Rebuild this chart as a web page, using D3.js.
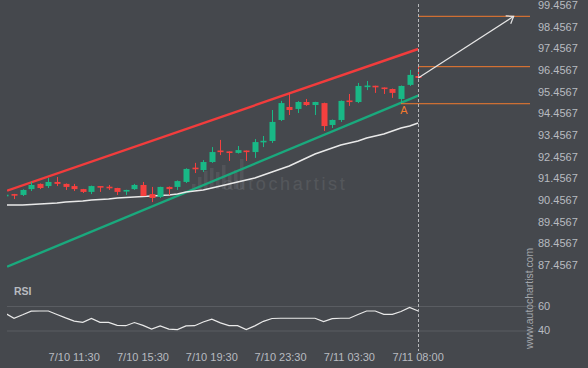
<!DOCTYPE html>
<html><head><meta charset="utf-8">
<script src="https://cdn.jsdelivr.net/npm/d3@7"></script>
<style>html,body{margin:0;padding:0;background:#45484d;} svg{display:block;font-family:"Liberation Sans",Arial,sans-serif}</style>
</head><body>
<svg id="c" width="588" height="368"></svg>
<script>
// ---- data (candle slots -1 .. 47, 30-minute bars) ----
const opens  = [90.68,90.73,90.69,90.96,91.20,91.10,91.29,91.20,91.10,90.96,90.83,91.10,91.07,91.01,90.85,90.96,91.15,90.73,90.60,91.06,91.06,91.29,91.95,91.84,92.21,92.74,92.70,92.63,92.74,92.67,93.16,93.18,94.15,94.75,94.66,94.98,94.84,94.93,93.92,94.15,95.05,94.98,95.70,95.73,95.65,95.58,95.12,95.77,96.18];
const highs  = [90.71,90.74,90.95,91.29,91.22,91.47,91.52,91.22,91.20,90.97,91.12,91.10,91.15,91.02,90.93,91.20,91.29,91.06,91.07,91.08,91.36,91.92,92.17,92.30,92.90,93.23,92.70,92.95,92.74,93.27,93.41,94.61,95.03,95.40,95.02,95.12,94.99,94.95,94.17,95.05,95.35,95.86,95.95,95.73,95.65,95.60,95.74,96.46,96.60];
const lows   = [90.67,90.50,90.64,90.87,90.96,91.01,91.10,90.92,90.87,90.78,90.73,90.83,90.92,90.69,90.69,90.92,90.64,90.36,90.55,90.69,90.92,91.24,91.70,91.75,92.17,92.53,92.26,92.60,92.26,92.40,92.90,93.09,94.10,94.38,94.47,94.80,94.38,93.64,93.78,94.06,94.80,94.93,95.53,95.40,95.35,95.17,94.89,95.72,96.09];
const closes = [90.70,90.69,90.92,91.15,91.01,91.29,91.20,91.06,90.96,90.83,91.10,91.06,91.05,90.83,90.92,91.15,90.64,90.55,91.06,90.96,91.33,91.89,91.92,92.21,92.67,92.70,92.66,92.76,92.70,93.13,93.19,94.06,94.93,94.61,94.98,94.84,94.98,93.87,94.15,95.03,95.00,95.72,95.74,95.69,95.61,95.40,95.72,96.23,96.09];
const maValues = [90.226,90.226,90.226,90.249,90.272,90.295,90.318,90.364,90.388,90.411,90.457,90.480,90.503,90.549,90.572,90.595,90.618,90.641,90.664,90.687,90.734,90.826,90.872,90.918,91.011,91.103,91.195,91.287,91.380,91.472,91.610,91.749,91.887,92.026,92.210,92.395,92.580,92.718,92.857,92.995,93.087,93.180,93.318,93.410,93.503,93.641,93.780,93.872,94.010];
const rsiValues = [54.0,50.0,52.8,55.8,55.9,55.9,53.1,50.3,47.7,46.7,49.8,46.7,46.6,44.2,43.9,46.5,44.2,41.1,43.8,41.1,40.7,43.7,43.9,46.9,49.2,46.2,44.0,43.9,40.8,43.8,47.5,49.8,50.0,50.0,50.0,50.0,50.0,47.3,49.7,50.0,50.0,53.1,55.9,55.9,53.2,53.2,55.5,58.9,55.9];
const firstSlot = -1;

const priceTicks = [99.4567,98.4567,97.4567,96.4567,95.4567,94.4567,93.4567,92.4567,91.4567,90.4567,89.4567,88.4567,87.4567];
const rsiTicks = [60, 40];
const timeTickSlots  = [7, 15, 23, 31, 39, 47];
const timeTickLabels = ["7/10 11:30","7/10 15:30","7/10 19:30","7/10 23:30","7/11 03:30","7/11 08:00"];

// channel (slot, value)
const channelSlots = [-0.8, 47];
const resistance   = [90.887, 97.426];
const support      = [87.378, 95.27];

// forecast levels
const lastSlot = 47;
const levelEndSlot = 60;
const targetLevel = 98.935;
const upperLevel = 96.61;
const pointALevel = 94.90;
const pointASlot = 45;
const arrowFrom = {slot: 47, value: 96.088};
const arrowTo   = {slot: 58.1, value: 98.935};

// ---- drawing ----
const svg = d3.select("#c");
const W = 588, H = 368;
svg.append("rect").attr("width", W).attr("height", H).attr("fill", "#45484d");

const x = d3.scaleLinear().domain([-1, 47]).range([5.4, 418.2]);
const y = d3.scaleLinear().domain([87.4567, 99.4567]).range([265, 5]);
const yr = d3.scaleLinear().domain([40, 60]).range([330.5, 306]);

const slots = d3.range(firstSlot, firstSlot + opens.length);
const data = slots.map((s, k) => ({s, o: opens[k], h: highs[k], l: lows[k], c: closes[k], ma: maValues[k], rsi: rsiValues[k]}));

const defs = svg.append("defs");
defs.append("clipPath").attr("id", "plot").append("rect").attr("x", 7).attr("y", 0).attr("width", 523).attr("height", 290);
defs.append("clipPath").attr("id", "rsiclip").append("rect").attr("x", 7).attr("y", 290).attr("width", 523).attr("height", 60);

const GREEN = "#19b886", RED = "#f5403f", ORANGE = "#f27a2e", TXT = "#b8bbc0";

// watermark logo + text
const wm = svg.append("g").attr("clip-path", "url(#plot)");
const logoTops = [184, 177, 171, 168, 172, 165, 175, 170, 159];
wm.selectAll("rect.logo").data(logoTops).join("rect")
  .attr("x", (d, i) => 192 + i * 6).attr("y", d => d).attr("width", 3.5)
  .attr("height", d => 189 - d).attr("fill", "#ffffff").attr("opacity", 0.07);
wm.append("text").attr("x", 223).attr("y", 190).text("autochartist")
  .attr("font-size", 18).attr("letter-spacing", 2.6).attr("fill", "#ffffff").attr("opacity", 0.08);

// price axis labels
const yAxis = d3.axisRight(y).tickValues(priceTicks).tickFormat(d3.format(".4f")).tickSize(0).tickPadding(0);
const ga = svg.append("g").attr("transform", "translate(538,0)").call(yAxis);
ga.select(".domain").remove();
ga.selectAll("text").attr("fill", TXT).attr("font-size", 11).attr("font-family", '"Liberation Sans",Arial,sans-serif');

const plot = svg.append("g").attr("clip-path", "url(#plot)");

// channel lines
const chLine = d3.line().x(d => x(d[0])).y(d => y(d[1]));
plot.append("path").attr("d", chLine(channelSlots.map((s, i) => [s, resistance[i]])))
  .attr("stroke", "#f23c3c").attr("stroke-width", 2.4).attr("fill", "none");
plot.append("path").attr("d", chLine(channelSlots.map((s, i) => [s, support[i]])))
  .attr("stroke", "#1aa97d").attr("stroke-width", 2.4).attr("fill", "none");

// moving average
plot.append("path").datum(data)
  .attr("d", d3.line().x(d => x(d.s)).y(d => y(d.ma)))
  .attr("stroke", "#e9e9e9").attr("stroke-width", 1.5).attr("fill", "none");

// candles
const cg = plot.selectAll("g.candle").data(data).join("g").attr("class", "candle");
cg.append("line").attr("x1", d => Math.round(x(d.s)) + 0.5).attr("x2", d => Math.round(x(d.s)) + 0.5)
  .attr("y1", d => y(d.h)).attr("y2", d => y(d.l))
  .attr("stroke", d => d.c >= d.o ? GREEN : RED).attr("stroke-width", 1);
cg.append("rect").attr("x", d => Math.round(x(d.s)) - 2.5).attr("width", 6)
  .attr("y", d => Math.min(y(d.o), y(d.c)))
  .attr("height", d => Math.max(1.6, Math.abs(y(d.o) - y(d.c))))
  .attr("fill", d => d.c >= d.o ? GREEN : RED);

// forecast levels
const lv = svg.append("g");
lv.append("line").attr("x1", x(lastSlot)).attr("x2", x(levelEndSlot)).attr("y1", y(targetLevel)).attr("y2", y(targetLevel))
  .attr("stroke", ORANGE).attr("stroke-width", 1);
lv.append("line").attr("x1", x(lastSlot)).attr("x2", x(levelEndSlot)).attr("y1", y(upperLevel)).attr("y2", y(upperLevel))
  .attr("stroke", ORANGE).attr("stroke-width", 1);
lv.append("line").attr("x1", x(pointASlot)).attr("x2", x(levelEndSlot)).attr("y1", y(pointALevel)).attr("y2", y(pointALevel))
  .attr("stroke", ORANGE).attr("stroke-width", 1);
lv.append("text").attr("x", x(pointASlot) + 3).attr("y", y(pointALevel) + 10).attr("text-anchor", "middle")
  .attr("fill", ORANGE).attr("font-size", 11).text("A");

// arrow
const ax0 = x(arrowFrom.slot), ay0 = y(arrowFrom.value), ax1 = x(arrowTo.slot), ay1 = y(arrowTo.value);
const ang = Math.atan2(ay1 - ay0, ax1 - ax0);
lv.append("line").attr("x1", ax0).attr("y1", ay0).attr("x2", ax1).attr("y2", ay1)
  .attr("stroke", "#e6e6e6").attr("stroke-width", 1.2);
const head = [ang + Math.PI - 0.62, ang + Math.PI + 0.62].map(a => [ax1 + 8 * Math.cos(a), ay1 + 8 * Math.sin(a)]);
lv.append("path").attr("d", `M${head[0][0]},${head[0][1]}L${ax1},${ay1}L${head[1][0]},${head[1][1]}`)
  .attr("stroke", "#e6e6e6").attr("stroke-width", 1.2).attr("fill", "none");

// RSI panel
svg.append("text").attr("x", 14).attr("y", 295).text("RSI").attr("fill", TXT)
  .attr("font-size", 10.5).attr("font-weight", "bold");
svg.selectAll("line.rsig").data(rsiTicks).join("line").attr("class", "rsig")
  .attr("x1", 7).attr("x2", 536).attr("y1", d => yr(d) + 0.5).attr("y2", d => yr(d) + 0.5)
  .attr("stroke", "#5a5d62").attr("stroke-width", 1);
svg.selectAll("text.rsit").data(rsiTicks).join("text").attr("class", "rsit")
  .attr("x", 538).attr("y", d => yr(d)).attr("dy", "0.35em").text(d => d)
  .attr("fill", TXT).attr("font-size", 11);
svg.append("path").datum(data).attr("clip-path", "url(#rsiclip)")
  .attr("d", d3.line().x(d => x(d.s)).y(d => yr(d.rsi)))
  .attr("stroke", "#e9e9e9").attr("stroke-width", 1.2).attr("fill", "none");

// current-time dashed line
svg.append("line").attr("x1", Math.round(x(lastSlot)) + 0.5).attr("x2", Math.round(x(lastSlot)) + 0.5)
  .attr("y1", 4).attr("y2", 351).attr("stroke", "#b5b7ba").attr("stroke-width", 1).attr("stroke-dasharray", "3,2");

// time labels
svg.selectAll("text.tl").data(timeTickSlots).join("text").attr("class", "tl")
  .attr("x", d => x(d)).attr("y", 360.5).attr("text-anchor", "middle")
  .text((d, i) => timeTickLabels[i]).attr("fill", TXT).attr("font-size", 11);

// vertical site watermark
svg.append("text").attr("transform", "translate(533,349) rotate(-90)").text("www.autochartist.com")
  .attr("fill", "#a3a6ab").attr("font-size", 10.4);
</script>
</body></html>
